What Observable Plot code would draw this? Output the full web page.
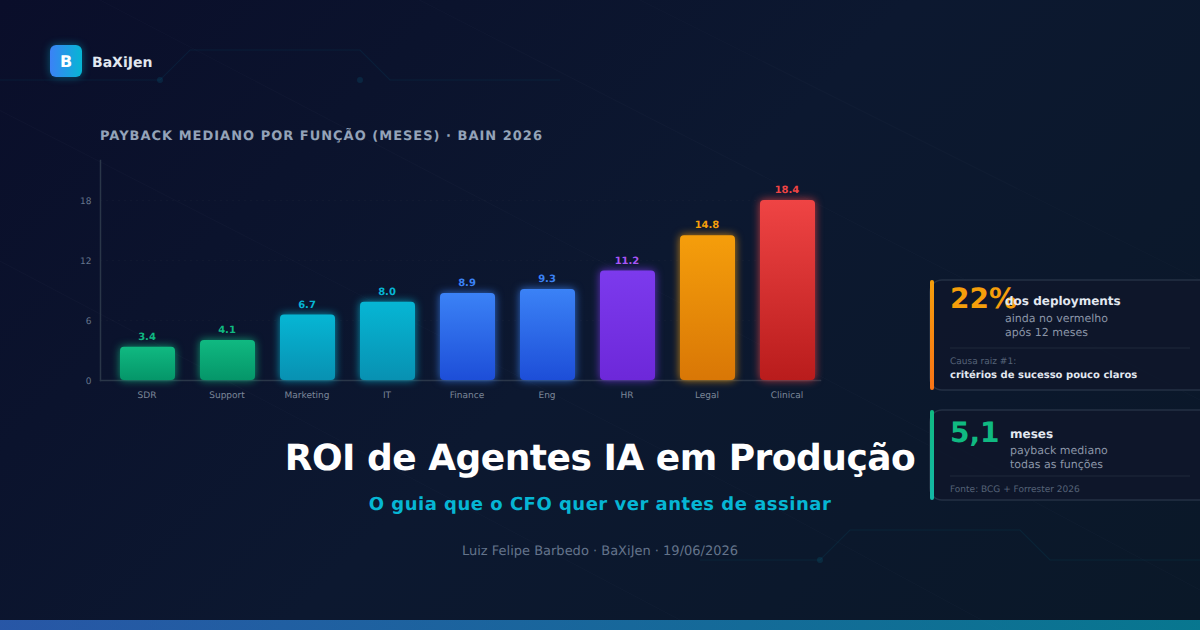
<!DOCTYPE html>
<html lang="pt"><head><meta charset="utf-8">
<script src="https://cdn.jsdelivr.net/npm/d3@7"></script>
<script src="https://cdn.jsdelivr.net/npm/@observablehq/plot@0.6"></script>
<style>
html,body{margin:0;padding:0;width:1200px;height:630px;overflow:hidden;background:#0a0f2c}
body{position:relative;font-family:"DejaVu Sans",sans-serif;text-rendering:geometricPrecision}
svg text{text-rendering:geometricPrecision}
#bg{position:absolute;inset:0;background:linear-gradient(135deg,#0a0e2a 0%,#0c1830 50%,#0a1828 100%)}
#decor,#cards,#plot{position:absolute;left:0;top:0}
#plot{width:1200px;height:630px}
#plot svg{background:transparent;display:block;overflow:visible}
.t{position:absolute;white-space:nowrap}
#bar{position:absolute;left:0;top:620px;width:1200px;height:10px;background:linear-gradient(90deg,#3b82f6,#06b6d4);opacity:.6}
</style></head><body>
<div id="bg"></div>
<svg id="decor" width="1200" height="630" fill="none">
 <g stroke="#94a3b8" stroke-opacity=".03">
  <path d="M-40 90L760 500M100 0L1000 470M400 -10L1200 400M640 0L1200 280M-40 240L680 620M760 500L1000 630M900 430L1200 590"/>
 </g>
 <g stroke="#06b6d4" stroke-opacity=".08" stroke-width="1.2">
  <path d="M0 80H160L190 50H360L390 80H560"/>
  <path d="M700 560H820L850 530H1020L1050 560H1200"/>
 </g>
 <g fill="#06b6d4" fill-opacity=".12"><circle cx="160" cy="80" r="3"/><circle cx="360" cy="80" r="3"/><circle cx="820" cy="560" r="3"/></g>
</svg>

<div class="t" style="left:50px;top:45px;width:32px;height:32px;border-radius:6px;background:linear-gradient(90deg,#3b82f6,#06b6d4);box-shadow:0 0 8px rgba(6,182,212,.45);color:#fff;font:bold 16px 'DejaVu Sans';line-height:34px;text-align:center">B</div>
<div class="t" style="left:92px;top:54px;color:#e2e8f0;font:bold 14px/18px 'DejaVu Sans'">BaXiJen</div>
<div class="t" style="left:100px;top:128px;color:#94a3b8;font:bold 13px/17px 'DejaVu Sans';letter-spacing:1px">PAYBACK MEDIANO POR FUNÇÃO (MESES) · BAIN 2026</div>

<div id="plot"></div>

<svg id="cards" width="1200" height="630" font-family="DejaVu Sans">
 <defs>
  <linearGradient id="acc1" x1="0" y1="0" x2="0" y2="1"><stop offset="0" stop-color="#f59e0b"/><stop offset="1" stop-color="#f97316"/></linearGradient>
  <linearGradient id="acc2" x1="0" y1="0" x2="0" y2="1"><stop offset="0" stop-color="#10b981"/><stop offset="1" stop-color="#14b8a6"/></linearGradient>
 </defs>
 <rect x="930" y="280" width="300" height="110" rx="12" fill="#0f172a" fill-opacity=".8" stroke="#243044" stroke-width="1.5"/>
 <rect x="930" y="280" width="4" height="110" rx="2" fill="url(#acc1)"/>
 <text x="950" y="308" font-size="28" font-weight="700" fill="#f59e0b">22%</text>
 <text x="1005" y="305" font-size="12" font-weight="700" fill="#e2e8f0">dos deployments</text>
 <text x="1005" y="322" font-size="11" fill="#8b95a7">ainda no vermelho</text>
 <text x="1005" y="336" font-size="11" fill="#8b95a7">após 12 meses</text>
 <line x1="950" x2="1190" y1="348" y2="348" stroke="#1e293b"/>
 <text x="950" y="364" font-size="9" fill="#556277">Causa raiz #1:</text>
 <text x="950" y="378" font-size="10" font-weight="700" fill="#e2e8f0">critérios de sucesso pouco claros</text>

 <rect x="930" y="410" width="300" height="90" rx="12" fill="#0f172a" fill-opacity=".8" stroke="#243044" stroke-width="1.5"/>
 <rect x="930" y="410" width="4" height="90" rx="2" fill="url(#acc2)"/>
 <text x="950" y="442" font-size="28" font-weight="700" fill="#10b981">5,1</text>
 <text x="1010" y="438" font-size="12" font-weight="700" fill="#e2e8f0">meses</text>
 <text x="1010" y="454" font-size="11" fill="#8b95a7">payback mediano</text>
 <text x="1010" y="468" font-size="11" fill="#8b95a7">todas as funções</text>
 <line x1="950" x2="1190" y1="476" y2="476" stroke="#1e293b"/>
 <text x="950" y="492" font-size="9" fill="#556277">Fonte: BCG + Forrester 2026</text>
</svg>

<div class="t" style="left:0;width:1200px;top:436px;text-align:center;color:#fff;font:bold 36px/46px 'DejaVu Sans';letter-spacing:-.5px">ROI de Agentes IA em Produção</div>
<div class="t" style="left:0;width:1200px;top:493px;text-align:center;color:#06b6d4;font:bold 18px/24px 'DejaVu Sans';letter-spacing:.5px">O guia que o CFO quer ver antes de assinar</div>
<div class="t" style="left:0;width:1200px;top:543px;text-align:center;color:#64748b;font:13px/17px 'DejaVu Sans'">Luiz Felipe Barbedo · BaXiJen · 19/06/2026</div>
<div id="bar"></div>

<script>
const categories = ["SDR","Support","Marketing","IT","Finance","Eng","HR","Legal","Clinical"];
const payback    = [3.4,4.1,6.7,8.0,8.9,9.3,11.2,14.8,18.4];
const topColors  = ["#10b981","#10b981","#06b6d4","#06b6d4","#3b82f6","#3b82f6","#7c3aed","#f59e0b","#ef4444"];
const endColors  = ["#059669","#059669","#0891b2","#0891b2","#1d4ed8","#1d4ed8","#6d28d9","#d97706","#b91c1c"];
const labelColors= ["#10b981","#10b981","#06b6d4","#06b6d4","#3b82f6","#3b82f6","#a855f7","#f59e0b","#ef4444"];
const tickLabels = [0,6,12,18];
// In the reference the tallest bar (18.4) tops out level with the "18" tick.
const tickStretch = 18.4 / 18;

const rows = categories.map((category,i)=>({category,value:payback[i],i}));

const gradients = () => {
  const ns="http://www.w3.org/2000/svg";
  const defs=document.createElementNS(ns,"defs");
  rows.forEach(r=>{
    const g=document.createElementNS(ns,"linearGradient");
    g.setAttribute("id","g"+r.i);g.setAttribute("x1",0);g.setAttribute("y1",0);g.setAttribute("x2",0);g.setAttribute("y2",1);
    [[0,topColors[r.i]],[1,endColors[r.i]]].forEach(([o,c])=>{
      const s=document.createElementNS(ns,"stop");s.setAttribute("offset",o);s.setAttribute("stop-color",c);g.appendChild(s);
    });
    defs.appendChild(g);
  });
  return defs;
};

const chart = Plot.plot({
  width:1200,height:630,
  marginLeft:100,marginRight:380,marginTop:160,marginBottom:250,
  style:{background:"transparent",fontFamily:"DejaVu Sans",overflow:"visible"},
  x:{domain:categories,paddingInner:0.3125,paddingOuter:0.15625,range:[107.5,827.5],label:null},
  y:{domain:[0,18.4],range:[380,200],label:null},
  color:{type:"identity"},
  marks:[
    gradients,
    Plot.gridY(tickLabels.slice(1).map(d=>d*tickStretch),{stroke:"#1e293b",strokeOpacity:.25,strokeDasharray:"2 4"}),
    Plot.axisY(tickLabels.map(d=>d*tickStretch),{tickSize:0,tickPadding:9,fontSize:9,fill:"#64748b",label:null,dy:1,
      tickFormat:d=>String(Math.round(d/tickStretch))}),
    Plot.axisX({tickSize:0,tickPadding:11,fontSize:9,fill:"#7c8799",label:null,dx:-1}),
    Plot.frame({anchor:"left",stroke:"#2a3648",strokeWidth:1.5}),
    Plot.frame({anchor:"bottom",stroke:"#2a3648",strokeWidth:1.5}),
    Plot.barY(rows,{x:"category",y:"value",r:4,fill:d=>`url(#g${d.i})`,
      render(index,scales,values,dims,ctx,next){
        const g=next(index,scales,values,dims,ctx);
        d3.select(g).selectAll("rect,path").each(function(_,k){
          const i=index[k];
          this.style.filter=`drop-shadow(0 0 4px ${topColors[i]}cc)`;
        });
        return g;
      }}),
    Plot.text(rows,{x:"category",y:"value",text:d=>d.value.toFixed(1),dx:-1,dy:-10.5,fontSize:10,fontWeight:"bold",fill:d=>labelColors[d.i]})
  ]
});
document.getElementById("plot").appendChild(chart);
</script>
</body></html>
